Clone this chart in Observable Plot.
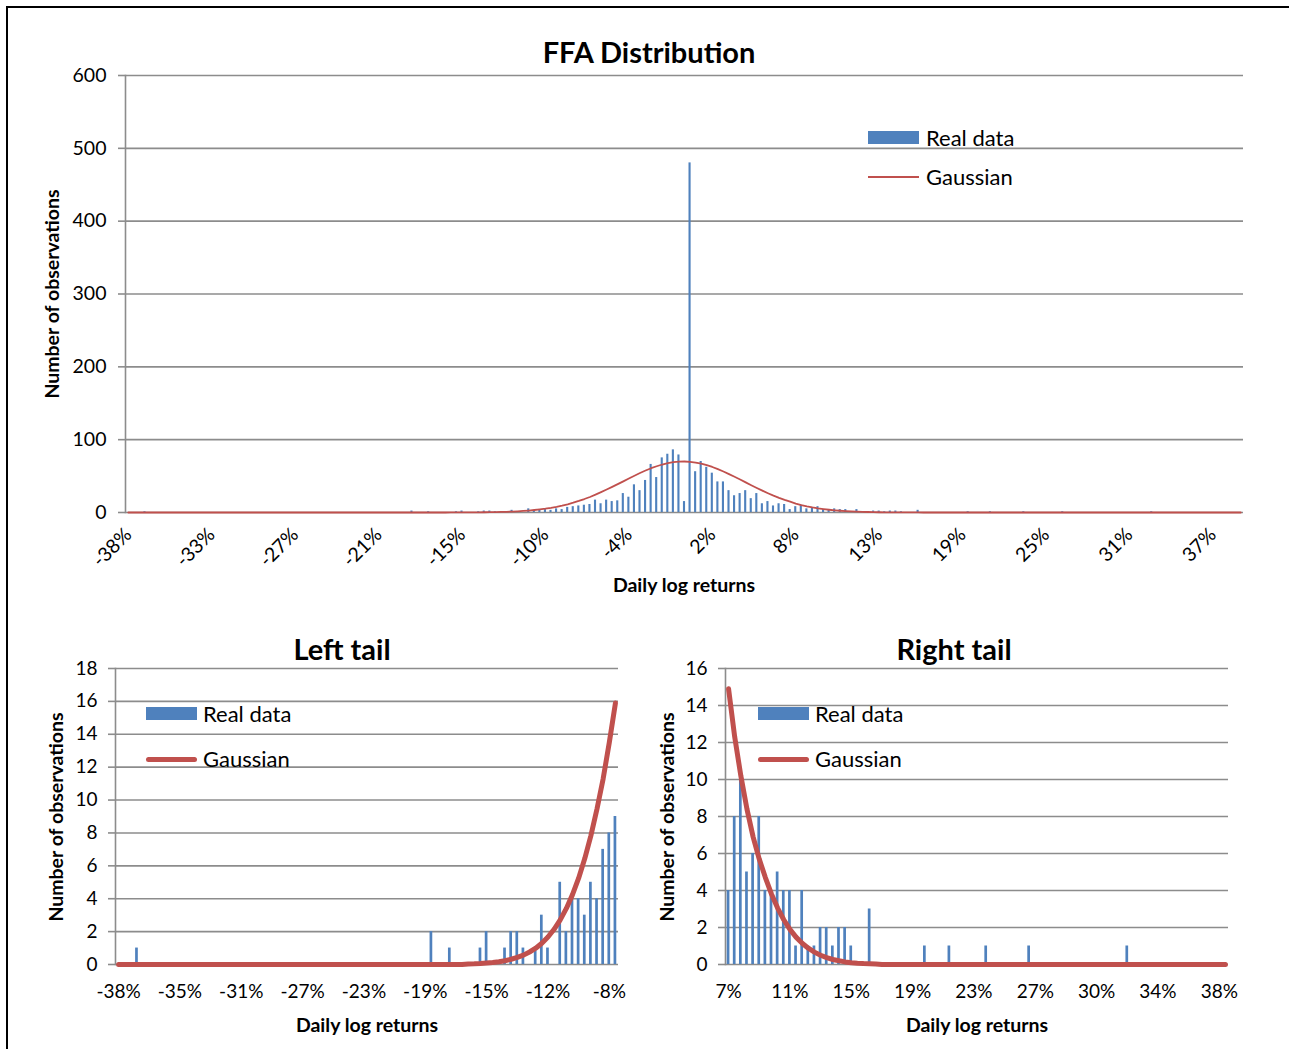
<!DOCTYPE html>
<html>
<head>
<meta charset="utf-8">
<script src="https://cdn.jsdelivr.net/npm/d3@7"></script>
<script src="https://cdn.jsdelivr.net/npm/@observablehq/plot@0.6"></script>
<style>
  body { margin: 0; background: #fff; font-family: Lato, "Open Sans", sans-serif; }
  #page { position: relative; width: 1289px; height: 1049px; overflow: hidden; background: #fff; }
  #frame { position: absolute; left: 6px; top: 6px; width: 1310px; height: 1070px; border: 2px solid #000; box-sizing: border-box; }
  .abs { position: absolute; white-space: nowrap; color: #000; line-height: 1; }
  .ctr { transform: translate(-50%, -50%); }
  .rot { transform: translate(-50%, -50%) rotate(-90deg); }
  .title { font-weight: bold; font-size: 29px; }
  .axt { font-weight: bold; font-size: 19.5px; }
  .leg { font-size: 22px; transform: translateY(-50%); }
  .plot { position: absolute; }
</style>
</head>
<body>
<div id="page">
  <div id="frame"></div>
</div>
<script>
// ---------------- DATA ----------------
// Histogram bins of daily log returns (category index 0..200, bin width ~0.385%)
const realCounts = [
  0,0,0,1,0,0,0,0,0,0,
  0,0,0,0,0,0,0,0,0,0,
  0,0,0,0,0,0,0,0,0,0,
  0,0,0,0,0,0,0,0,0,0,
  0,0,0,0,0,0,0,0,0,0,
  0,2,0,0,1,0,0,0,0,1,
  2,0,0,1,2,2,1,0,1,3,
  1,0,5,2,4,4,3,5,4,7,
  8,9,10,11,17,12,17,15,16,26,
  21,38,30,44,66,48,75,80,86,79,
  15,480,56,70,62,54,42,42,30,23,
  26,30,19,26,12,15,9,12,11,4,
  8,10,5,6,8,4,4,5,4,4,
  1,4,1,1,2,2,1,2,2,1,
  0,0,3,0,0,0,0,0,0,0,
  0,1,0,0,0,1,0,0,0,0,
  0,1,0,0,0,0,0,0,1,0,
  0,0,0,0,0,0,0,0,0,0,
  0,0,0,0,1,0,0,0,0,0,
  0,0,0,0,0,0,0,0,0,0,
  0
];
const gaussian = [
  0,0,0,0,0,0,0,0,0,0,
  0,0,0,0,0,0,0,0,0,0,
  0,0,0,0,0,0,0,0,0,0,
  0,0,0,0,0,0,0,0,0,0,
  0,0,0,0,0,0,0,0,0,0,
  0,0,0,0,0,0,0,0.03,0.04,0.06,
  0.09,0.12,0.17,0.23,0.32,0.43,0.57,0.76,0.99,1.29,
  1.67,2.14,2.71,3.41,4.25,5.25,6.44,7.84,9.47,11.3,
  13.5,15.9,18.5,21.3,24.5,27.9,31.5,35.1,38.9,42.8,
  46.7,50.4,54.2,57.6,60.8,63.5,65.9,67.7,69.05,69.8,
  70.0,69.6,68.6,67.05,65.0,62.5,59.5,56.3,52.7,49.1,
  45.3,41.3,37.4,33.6,30.0,26.5,23.2,20.1,17.4,14.9,
  12.3,10.2,8.4,6.9,5.7,4.7,3.8,3.05,2.42,1.9,
  1.48,1.15,0.88,0.67,0.5,0.37,0.27,0.2,0.14,0.1,
  0.07,0.05,0.04,0.03,0,0,0,0,0,0,
  0,0,0,0,0,0,0,0,0,0,
  0,0,0,0,0,0,0,0,0,0,
  0,0,0,0,0,0,0,0,0,0,
  0,0,0,0,0,0,0,0,0,0,
  0,0,0,0,0,0,0,0,0,0,
  0
];
const topTickLabels   = ["-38%","-33%","-27%","-21%","-15%","-10%","-4%","2%","8%","13%","19%","25%","31%","37%"];
const leftTickLabels  = ["-38%","-35%","-31%","-27%","-23%","-19%","-15%","-12%","-8%"];
const rightTickLabels = ["7%","11%","15%","19%","23%","27%","30%","34%","38%"];
const legendLabels = ["Real data", "Gaussian"];

// ---------------- CHART ----------------
const BLUE = "#4F81BD", RED = "#C0504D", GRID = "#8c8c8c";
const page = document.getElementById("page");
const table = realCounts.map((c, k) => ({k, count: c, gauss: gaussian[k]}));

function addText(txt, cls, x, y) {
  const d = document.createElement("div");
  d.className = "abs " + cls;
  d.style.left = x + "px"; d.style.top = y + "px";
  d.textContent = txt;
  page.appendChild(d);
  return d;
}
function addBox(x, y, w, h, color, radius) {
  const d = document.createElement("div");
  d.style.position = "absolute";
  d.style.left = x + "px"; d.style.top = y + "px";
  d.style.width = w + "px"; d.style.height = h + "px";
  d.style.background = color;
  if (radius) d.style.borderRadius = radius + "px";
  page.appendChild(d);
}

function chart({left, top, width, height, mL, mR, mT, mB, k0, k1, yMax, yStep, tickEvery, tickLabels,
                rotate, barPad, lineW, fontSize, tickPad, xPad}) {
  const rows = table.filter(d => d.k >= k0 && d.k <= k1);
  const yTicks = d3.range(0, yMax + yStep / 2, yStep);
  const xTicks = tickLabels.map((_, i) => k0 + i * tickEvery);
  const labelOf = new Map(xTicks.map((k, i) => [k, tickLabels[i]]));
  const svg = Plot.plot({
    width, height,
    marginLeft: mL, marginRight: mR, marginTop: mT, marginBottom: mB,
    style: {fontFamily: "Lato, 'Open Sans', sans-serif", fontSize: fontSize + "px", color: "#000", background: "transparent"},
    x: {type: "band", domain: d3.range(k0, k1 + 1), paddingInner: barPad, paddingOuter: barPad / 2, align: 0.5, round: false},
    y: {domain: [0, yMax]},
    marks: [
      Plot.ruleY(yTicks, {stroke: GRID, strokeWidth: 1.6}),
      Plot.frame({anchor: "left", stroke: GRID, strokeWidth: 1.6}),
      Plot.barY(rows, {x: "k", y: "count", fill: BLUE}),
      Plot.lineY(rows, {x: "k", y: "gauss", stroke: RED, strokeWidth: lineW}),
      Plot.axisY({ticks: yTicks, tickSize: 7, tickPadding: tickPad, stroke: GRID, strokeWidth: 1.6, label: null, fontSize}),
      Plot.axisX({ticks: xTicks, tickFormat: k => labelOf.get(k), tickSize: 0,
                  tickPadding: xPad, tickRotate: rotate ? -45 : 0, label: null, fontSize})
    ]
  });
  svg.classList.add("plot");
  svg.style.left = left + "px"; svg.style.top = top + "px";
  page.appendChild(svg);
}

// Top: FFA distribution
chart({left: 0, top: 0, width: 1289, height: 620, mL: 125, mR: 46, mT: 75, mB: 108,
       k0: 0, k1: 200, yMax: 600, yStep: 100, tickEvery: 15, tickLabels: topTickLabels,
       rotate: true, barPad: 0.62, lineW: 1.8, fontSize: 19.5, tickPad: 12, xPad: 19});
// Left tail
chart({left: 0, top: 620, width: 640, height: 430, mL: 115, mR: 22, mT: 48, mB: 86,
       k0: 0, k1: 81, yMax: 18, yStep: 2, tickEvery: 10, tickLabels: leftTickLabels,
       rotate: false, barPad: 0.56, lineW: 5, fontSize: 19, tickPad: 11, xPad: 20});
// Right tail
chart({left: 640, top: 620, width: 649, height: 430, mL: 85, mR: 61, mT: 48, mB: 86,
       k0: 119, k1: 200, yMax: 16, yStep: 2, tickEvery: 10, tickLabels: rightTickLabels,
       rotate: false, barPad: 0.56, lineW: 5, fontSize: 19, tickPad: 11, xPad: 20});

// Titles and axis titles
addText("FFA Distribution", "title ctr", 649, 51);
addText("Left tail", "title ctr", 342, 648);
addText("Right tail", "title ctr", 954, 648);
addText("Daily log returns", "axt ctr", 684, 585);
addText("Daily log returns", "axt ctr", 367, 1025);
addText("Daily log returns", "axt ctr", 977, 1025);
addText("Number of observations", "axt rot", 52, 294);
addText("Number of observations", "axt rot", 56, 817);
addText("Number of observations", "axt rot", 667, 817);

// Legends
addBox(868, 131, 51, 13, BLUE);
addText(legendLabels[0], "leg", 926, 138);
addBox(868, 176, 51, 2, RED);
addText(legendLabels[1], "leg", 926, 177);

addBox(146, 707, 51, 13, BLUE);
addText(legendLabels[0], "leg", 203, 714);
addBox(146, 757, 51, 5, RED, 2.5);
addText(legendLabels[1], "leg", 203, 759);

addBox(758, 707, 51, 13, BLUE);
addText(legendLabels[0], "leg", 815, 714);
addBox(758, 757, 51, 5, RED, 2.5);
addText(legendLabels[1], "leg", 815, 759);
</script>
</body>
</html>
